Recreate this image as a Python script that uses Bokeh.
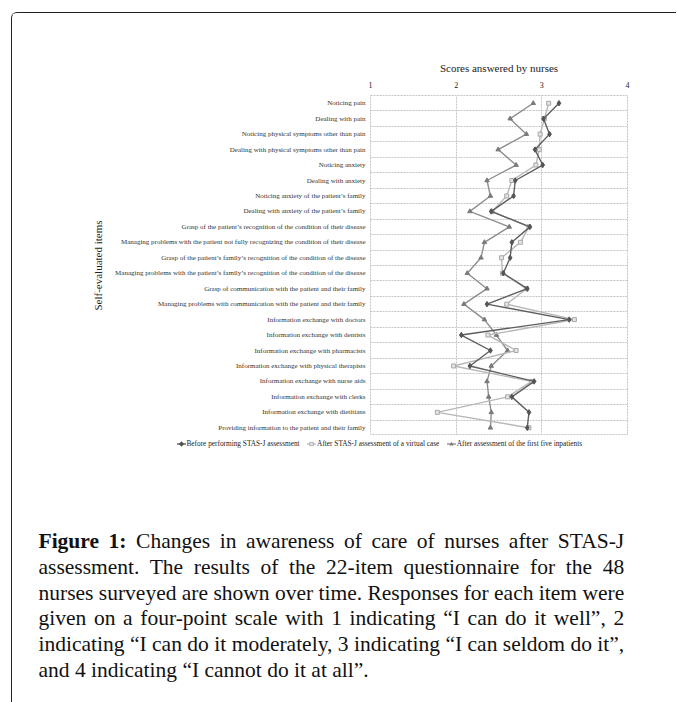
from bokeh.plotting import figure
from bokeh.models import Range1d, FactorRange, FixedTicker, Div
from bokeh.layouts import column
from bokeh.embed import file_html
from bokeh.resources import INLINE

items = [
    "Noticing pain",
    "Dealing with pain",
    "Noticing physical symptoms other than pain",
    "Dealing with physical symptoms other than pain",
    "Noticing anxiety",
    "Dealing with anxiety",
    "Noticing anxiety of the patient\u2019s family",
    "Dealing with anxiety of the patient\u2019s family",
    "Grasp of the patient\u2019s recognition of the condition of their disease",
    "Managing problems with the patient not fully recognizing the condition of their disease",
    "Grasp of the patient\u2019s family\u2019s recognition of the condition of the disease",
    "Managing problems with the patient\u2019s family\u2019s recognition of the condition of the disease",
    "Grasp of communication with the patient and their family",
    "Managing problems with communication with the patient and their family",
    "Information exchange with doctors",
    "Information exchange with dentists",
    "Information exchange with pharmacists",
    "Information exchange with physical therapists",
    "Information exchange with nurse aids",
    "Information exchange with clerks",
    "Information exchange with dietitians",
    "Providing information to the patient and their family",
]

before = [3.20, 3.02, 3.09, 2.92, 3.01, 2.69, 2.67, 2.41, 2.86, 2.65, 2.63,
          2.55, 2.83, 2.36, 3.32, 2.06, 2.40, 2.16, 2.91, 2.65, 2.85, 2.83]
virtual = [3.08, 3.03, 2.98, 2.97, 2.93, 2.65, 2.59, 2.42, 2.85, 2.75, 2.53,
           2.54, 2.82, 2.59, 3.38, 2.37, 2.70, 1.97, 2.88, 2.60, 1.78, 2.85]
five = [2.90, 2.63, 2.82, 2.49, 2.70, 2.36, 2.40, 2.16, 2.62, 2.33, 2.29,
        2.13, 2.36, 2.09, 2.33, 2.47, 2.60, 2.41, 2.36, 2.38, 2.41, 2.40]

x_ticks = [1, 2, 3, 4]
series_names = [
    "Before performing STAS-J assessment",
    "After STAS-J assessment of a virtual case",
    "After assessment of the first five inpatients",
]
x_title = "Scores answered by nurses"
y_title = "Self-evaluated items"

caption_bold = "Figure 1:"
caption_lines = [
    "Changes in awareness of care of nurses after STAS-J",
    "assessment. The results of the 22-item questionnaire for the 48",
    "nurses surveyed are shown over time. Responses for each item were",
    "given on a four-point scale with 1 indicating \u201cI can do it well\u201d, 2",
    "indicating \u201cI can do it moderately, 3 indicating \u201cI can seldom do it\u201d,",
    "and 4 indicating \u201cI cannot do it at all\u201d.",
]

SERIF = "Liberation Serif"
COL_BEFORE, MK_BEFORE = "#5e5e5e", "#555555"
COL_VIRTUAL, MK_VIRTUAL_LINE, MK_VIRTUAL_FILL = "#b8b8b8", "#a8a8a8", "#e4e4e4"
COL_FIVE, MK_FIVE = "#8e8e8e", "#7a7a7a"

# ---------------- chart ----------------
W = 664
H1 = 422
p = figure(width=W, height=H1, x_range=Range1d(1, 4),
           y_range=FactorRange(factors=items[::-1]),
           x_axis_location="above", output_backend="svg", toolbar_location=None,
           min_border_left=358, min_border_right=W - 615, min_border_top=82,
           min_border_bottom=0)
p.background_fill_color = "white"
p.border_fill_color = "white"
p.outline_line_color = "#c4c4c4"
p.outline_line_dash = "2 1"
p.outline_line_width = 1

xa = p.xaxis[0]
xa.ticker = FixedTicker(ticks=x_ticks)
xa.axis_label = x_title
xa.axis_label_text_font = SERIF
xa.axis_label_text_font_size = "11px"
xa.axis_label_text_font_style = "normal"
xa.axis_label_text_color = "#222222"
xa.axis_label_standoff = 5
xa.major_label_text_font = SERIF
xa.major_label_text_font_size = "8px"
xa.major_label_text_color = "#222222"
xa.major_label_standoff = 8
xa.axis_line_color = None
xa.major_tick_line_color = None
xa.minor_tick_line_color = None
xa.major_tick_out = 0
xa.major_tick_in = 0

ya = p.yaxis[0]
ya.axis_label = y_title
ya.axis_label_text_font = SERIF
ya.axis_label_text_font_size = "11px"
ya.axis_label_text_font_style = "normal"
ya.axis_label_text_color = "#222222"
ya.axis_label_standoff = 8
ya.major_label_text_font = SERIF
ya.major_label_text_font_size = "7px"
ya.major_label_text_color = "#333333"
ya.major_label_standoff = 5
ya.axis_line_color = None
ya.major_tick_line_color = None
ya.major_tick_out = 0
ya.major_tick_in = 0

p.xgrid.ticker = FixedTicker(ticks=[2, 3])
p.xgrid.grid_line_color = "#c4c4c4"
p.xgrid.grid_line_dash = "2 1"
p.ygrid.ticker = FixedTicker(ticks=list(range(1, len(items))))
p.ygrid.grid_line_color = "#c4c4c4"
p.ygrid.grid_line_dash = "2 1"

p.line(five, items, line_color=COL_FIVE, line_width=1.4)
p.scatter(five, items, marker="triangle", size=4.5, color=MK_FIVE)
p.line(virtual, items, line_color=COL_VIRTUAL, line_width=1.4)
p.scatter(virtual, items, marker="square", size=4, line_color=MK_VIRTUAL_LINE,
          fill_color=MK_VIRTUAL_FILL)
p.line(before, items, line_color=COL_BEFORE, line_width=1.4)
p.scatter(before, items, marker="diamond", size=5.5, color=MK_BEFORE)

# ---------------- legend (below the chart) ----------------
icons = [
    ('<svg width="9" height="8" style="flex:none"><line x1="0" y1="4" x2="9" y2="4" '
     'stroke="%s" stroke-width="1.4"/><path d="M4.5 1.3 L7.2 4 L4.5 6.7 L1.8 4 Z" '
     'fill="%s"/></svg>' % (COL_BEFORE, MK_BEFORE)),
    ('<svg width="9" height="8" style="flex:none"><line x1="0" y1="4" x2="9" y2="4" '
     'stroke="%s" stroke-width="1.4"/><rect x="2.8" y="2.3" width="3.4" height="3.4" '
     'fill="%s" stroke="%s" stroke-width="0.8"/></svg>'
     % (COL_VIRTUAL, MK_VIRTUAL_FILL, MK_VIRTUAL_LINE)),
    ('<svg width="9" height="8" style="flex:none"><line x1="0" y1="4" x2="9" y2="4" '
     'stroke="%s" stroke-width="1.4"/><path d="M4.5 1.8 L6.6 5.6 L2.4 5.6 Z" '
     'fill="%s"/></svg>' % (COL_FIVE, MK_FIVE)),
]
leg_parts = []
for icon, name in zip(icons, series_names):
    leg_parts.append(icon + '<span style="margin-left:1px;margin-right:7.5px;">%s</span>'
                     % name)
legend_div = Div(text='<div style="display:flex;align-items:center;height:8px;'
                      'white-space:nowrap;">' + "".join(leg_parts) + '</div>',
                 width=440, height=8, styles={
                     "margin-left": "164.5px",
                     "font-family": "'Liberation Serif', serif",
                     "font-size": "7.3px",
                     "line-height": "8px",
                     "color": "#222222",
                 })

# ---------------- caption ----------------
rows = []
for i, line in enumerate(caption_lines):
    txt = line
    if i == 0:
        txt = "<b>" + caption_bold + "</b> " + line
    last = i == len(caption_lines) - 1
    align = "left" if last else "justify"
    rows.append('<div style="text-align:%s;text-align-last:%s;">%s</div>'
                % (align, align, txt))

cap = Div(text="".join(rows), width=619, height=172, styles={
    "margin-left": "26.5px",
    "margin-top": "76px",
    "font-family": "'Liberation Serif', serif",
    "font-size": "21.5px",
    "line-height": "25.8px",
    "color": "#111111",
})

layout = column(p, legend_div, cap, styles={
    "border-left": "1.5px solid #222",
    "border-top": "1.5px solid #222",
    "border-top-left-radius": "6px",
    "margin-left": "11px",
    "margin-top": "12px",
})

open("out.html", "w").write(file_html(layout, INLINE))
